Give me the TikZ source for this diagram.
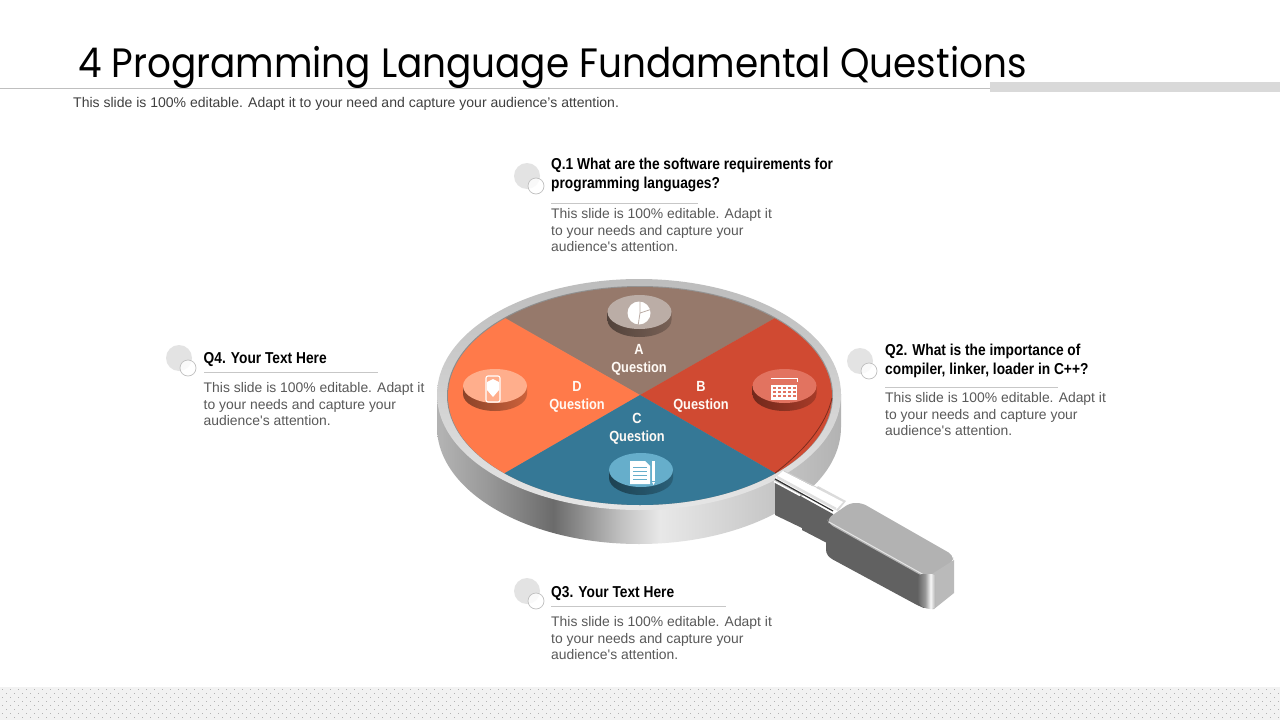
\documentclass[tikz,border=0pt]{standalone}
\usepackage{fontspec}
\setmainfont{Liberation Sans}
\newfontfamily\bodyfont{Liberation Sans}
\newfontfamily\titlefont[FakeStretch=0.912]{Poppins}
\newfontfamily\headfont[FakeStretch=0.87]{Liberation Sans}
\pgfdeclarehorizontalshading{bodyshade}{100bp}{rgb(0bp)=(.70,.70,.70);rgb(25.4bp)=(.70,.70,.70);rgb(31.2bp)=(.60,.60,.60);rgb(39.4bp)=(.42,.42,.42);rgb(47.6bp)=(.75,.75,.75);rgb(52.6bp)=(.91,.91,.91);rgb(64.1bp)=(.80,.80,.80);rgb(75bp)=(.70,.70,.70);rgb(100bp)=(.70,.70,.70)}
\pgfdeclarehorizontalshading{endshade}{100bp}{rgb(0bp)=(.40,.40,.40);rgb(25bp)=(.40,.40,.40);rgb(45bp)=(.60,.60,.60);rgb(60bp)=(.97,.97,.97);rgb(72bp)=(.72,.72,.72);rgb(100bp)=(.72,.72,.72)}
\definecolor{ca}{HTML}{96796B}
\definecolor{cb}{HTML}{D04A32}
\definecolor{cc}{HTML}{357896}
\definecolor{cd}{HTML}{FF7A4A}
\definecolor{da}{HTML}{BBADA6}
\definecolor{db}{HTML}{E27360}
\definecolor{dc}{HTML}{66AECB}
\definecolor{dd}{HTML}{FFAE8C}
\definecolor{bodytext}{HTML}{595959}
\tikzset{
  bodytxt/.style={anchor=north west,inner sep=0pt,align=left,text=bodytext,font=\fontsize{13.9}{16.6}\bodyfont},
  headtxt/.style={anchor=north west,inner sep=0pt,align=left,text=black,font=\fontsize{15.8}{19}\headfont\bfseries},
  seglabel/.style={inner sep=0pt,align=center,text=white!96!orange,font=\fontsize{14.7}{18}\headfont\bfseries},
  dotbig/.style={circle,fill=black!11,minimum size=26pt,inner sep=0pt},
  dotsmall/.style={circle,draw=black!25,fill=white,fill opacity=.8,line width=.7pt,minimum size=16pt,inner sep=0pt},
  rulegrey/.style={draw=black!22,line width=.8pt},
}
\newcommand{\disc}[4]{% x y topcolor sidecolor
  \shade[left color=#4!55!black,middle color=#4!30!white,right color=#4!80!black]
    (#1-32,#2) -- (#1-32,#2+8) arc[start angle=180,end angle=0,x radius=32,y radius=17] -- (#1+32,#2) -- cycle;
  \fill[#3] (#1,#2) ellipse[x radius=32,y radius=17];
}
\begin{document}
\begin{tikzpicture}[x=1pt,y=-1pt]
\useasboundingbox (0,0) rectangle (1280,720);
\fill[white] (0,0) rectangle (1280,720);
% footer band
\fill[black!5] (0,687) rectangle (1280,720);
\foreach \r in {0,...,7}{
  \pgfmathsetmacro{\yy}{689+4*\r}
  \pgfmathsetmacro{\off}{mod(\r,2)*4+2}
  \foreach \c in {0,...,159}{
    \fill[black!30] (\off+8*\c,\yy) rectangle ++(1,1);
  }
}
% title
\node[anchor=base west,inner sep=0pt,font=\fontsize{41}{46}\titlefont] (title) at (78,77) {4 Programming Language Fundamental Questions};
\draw[black!25,line width=1pt] (0,88) -- (990,88);
\fill[black!15] (990,82) rectangle (1280,92);
\node[anchor=base west,inner sep=0pt,text=black!75,font=\fontsize{14.02}{16}\bodyfont] (sub) at (73,107) {This slide is 100\% editable. Adapt it to your need and capture your audience’s attention.};
% lens body
\shade[shading=bodyshade] (437,394) -- (437,427) arc[start angle=180,end angle=0,x radius=202,y radius=117] -- (841,394) -- cycle;
\shade[top color=black!26,bottom color=black!10] (639,394.5) ellipse[x radius=202,y radius=115.5];
\shade[left color=black!45,right color=black!40] (640,395.5) ellipse[x radius=193,y radius=109.5];
% face
\begin{scope}
\clip (640,396) ellipse[x radius=192,y radius=109];
\fill[ca] (640,395) -- (505,318) -- (400,318) -- (400,250) -- (880,250) -- (880,318) -- (775,318) -- cycle;
\fill[cd] (640,395) -- (505,318) -- (300,200) -- (300,590) -- (505,473) -- cycle;
\fill[cb] (640,395) -- (775,318) -- (980,200) -- (980,590) -- (775,473) -- cycle;
\fill[cc] (640,395) -- (505,473) -- (300,590) -- (980,590) -- (775,473) -- cycle;
\end{scope}
\draw[cb!60!black,line width=.8pt] (775,473) .. controls (805,450) and (826,425) .. (832,398);
% handle shaft
\fill[black!14] (818,486) -- (846,501) -- (838,511) -- (810,497) -- cycle;
\fill[black!62] (775,482) -- (833,514) -- (833,546) -- (827,543) -- (802,530) -- (802,528) -- (775,515) -- cycle;
\fill[white] (783,471) -- (843,502) -- (834,512) -- (775,478) -- cycle;
\draw[black!18,line width=.8pt] (784,471) -- (820,489);
\draw[black!12,line width=2.5pt] (777,477) -- (836,509);
\draw[black!80,line width=1.2pt] (775,479) -- (833,511);
\draw[white,line width=1.5pt] (774,481.5) -- (800,495.5);
% handle grip
\fill[black!62,rounded corners=3pt] (826,520) -- (826,553) -- (830,558) -- (917,605) -- (926,609) -- (926,577) -- cycle;
\fill[black!30,rounded corners=5pt] (827,519) -- (850,503) -- (862,503) -- (953,555) -- (953,562) -- (932,576) -- (924,577) -- (829,524) -- cycle;
\draw[black!10,line width=1pt] (829,522) -- (924,575);
\fill[black!27] (932,574) -- (954,560) -- (954,593) -- (934,609) -- (932,609) -- cycle;
\shade[shading=endshade,rounded corners=4pt] (918,574) -- (936,574) -- (936,609) -- (926,609) -- (918,604) -- cycle;
% discs
\disc{639.5}{312}{da}{ca}
\disc{495}{386}{dd}{cd}
\disc{784.5}{386}{db}{cb}
\disc{641}{470}{dc}{cc}
% icon A
\fill[white] (639,313) circle[radius=11.5];
\draw[da,line width=.8pt] (640,301) -- (640,313) -- (638,326) (640,313) -- (652,309);
% icon D
\draw[white,line width=1.1pt,rounded corners=2pt] (486,376) rectangle (500,402);
\fill[white] (487,382) -- (493,379) -- (499,382) -- (499,390) -- (493,397) -- (487,390) -- cycle;
% icon B
\fill[white] (771,385) rectangle (797,400);
\foreach \i in {0,...,4}{\foreach \j in {0,...,2}{
  \fill[db] (773+5*\i,387+4*\j) rectangle ++(2.8,2.2);
}}
\draw[white,line width=.8pt] (771,378) -- (797,378) -- (797,382);
% icon C
\fill[white] (630,461) -- (645,461) -- (650,466) -- (650,484) -- (630,484) -- cycle;
\foreach \j in {0,...,3}{\draw[dc,line width=1pt] (633,467+4.3*\j) -- (647,467+4.3*\j);}
\fill[white] (652,461) rectangle (655,481);
\fill[white] (652,482) -- (655,482) -- (653.5,485) -- cycle;
% segment labels
\node[seglabel] (la) at (639,360) {A\\Question};
\node[seglabel] (lb) at (701,397) {B\\Question};
\node[seglabel] (lc) at (637,429) {C\\Question};
\node[seglabel] (ld) at (577,397) {D\\Question};
% callouts
\node[dotbig] (q1a) at (527,176) {};
\node[dotsmall] (q1b) at (536,186) {};
\node[headtxt] (q1h) at (551,158) {Q.1 What are the software requirements for\\programming languages?};
\draw[rulegrey] (551,203) -- (698,203);
\node[bodytxt] (q1t) at (551,208.5) {This slide is 100\% editable. Adapt it\\to your needs and capture your\\audience's attention.};
\node[dotbig] (q2a) at (860,361) {};
\node[dotsmall] (q2b) at (869,371) {};
\node[headtxt] (q2h) at (885,343.5) {Q2. What is the importance of\\compiler, linker, loader in C++?};
\draw[rulegrey] (885,387) -- (1058,387);
\node[bodytxt] (q2t) at (885,392.5) {This slide is 100\% editable. Adapt it\\to your needs and capture your\\audience's attention.};
\node[dotbig] (q3a) at (527,591) {};
\node[dotsmall] (q3b) at (536,601) {};
\node[headtxt] (q3h) at (551,586) {Q3. Your Text Here};
\draw[rulegrey] (551,606) -- (726,606);
\node[bodytxt] (q3t) at (551,616.5) {This slide is 100\% editable. Adapt it\\to your needs and capture your\\audience's attention.};
\node[dotbig] (q4a) at (179,358) {};
\node[dotsmall] (q4b) at (188,368) {};
\node[headtxt] (q4h) at (203.5,352) {Q4. Your Text Here};
\draw[rulegrey] (204,372) -- (378,372);
\node[bodytxt] (q4t) at (203.5,382.5) {This slide is 100\% editable. Adapt it\\to your needs and capture your\\audience's attention.};
\end{tikzpicture}
\end{document}
